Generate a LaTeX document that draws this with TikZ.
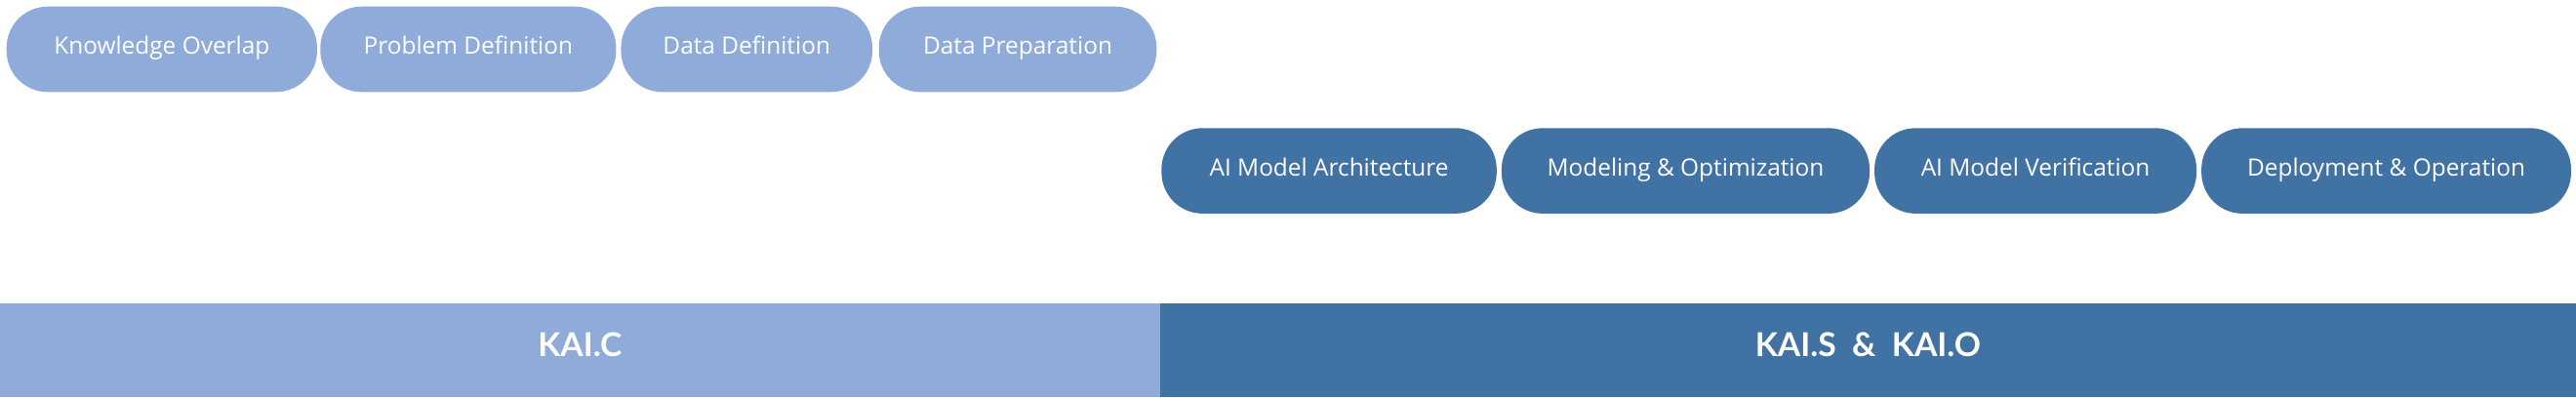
\documentclass[tikz,border=0pt]{standalone}
\usepackage{fontspec}
\setmainfont{Open Sans}
\newfontfamily\barfont{Lato}
\definecolor{lightb}{HTML}{8FABD9}
\definecolor{darkb}{HTML}{4172A4}
\begin{document}
\begin{tikzpicture}[x=1pt,y=-1pt,
  pill/.style={rounded corners=25pt,text=white,font=\fontsize{14.5}{16}\selectfont,inner sep=0pt,minimum height=52pt,text height=1.45ex,text depth=0.3ex},
  lpill/.style={pill,fill=lightb},
  dpill/.style={pill,fill=darkb},
  bar/.style={text=white,font=\barfont\fontsize{20}{22}\selectfont\bfseries,inner sep=0pt,minimum height=57pt,text height=1.45ex,text depth=0.2ex}]
\useasboundingbox (0,0) rectangle (1568,242);
\node[lpill,minimum width=189pt] (k) at (98.5,30) {Knowledge Overlap};
\node[lpill,minimum width=180pt] (p) at (285,30) {Problem Definition};
\node[lpill,minimum width=153pt] (dd) at (454.5,30) {Data Definition};
\node[lpill,minimum width=169pt] (dp) at (619.5,30) {Data Preparation};
\node[dpill,minimum width=204pt] (a) at (809,104) {AI Model Architecture};
\node[dpill,minimum width=224pt] (m) at (1026,104) {Modeling \& Optimization};
\node[dpill,minimum width=196pt] (v) at (1239,104) {AI Model Verification};
\node[dpill,minimum width=225pt] (o) at (1452.5,104) {Deployment \& Operation};
\node[bar,fill=lightb,minimum width=706pt] (c) at (353,213.5) {KAI.C};
\node[bar,fill=darkb,minimum width=862pt] (s) at (1137,213.5) {KAI.S \ \& \ KAI.O};
\end{tikzpicture}
\end{document}
